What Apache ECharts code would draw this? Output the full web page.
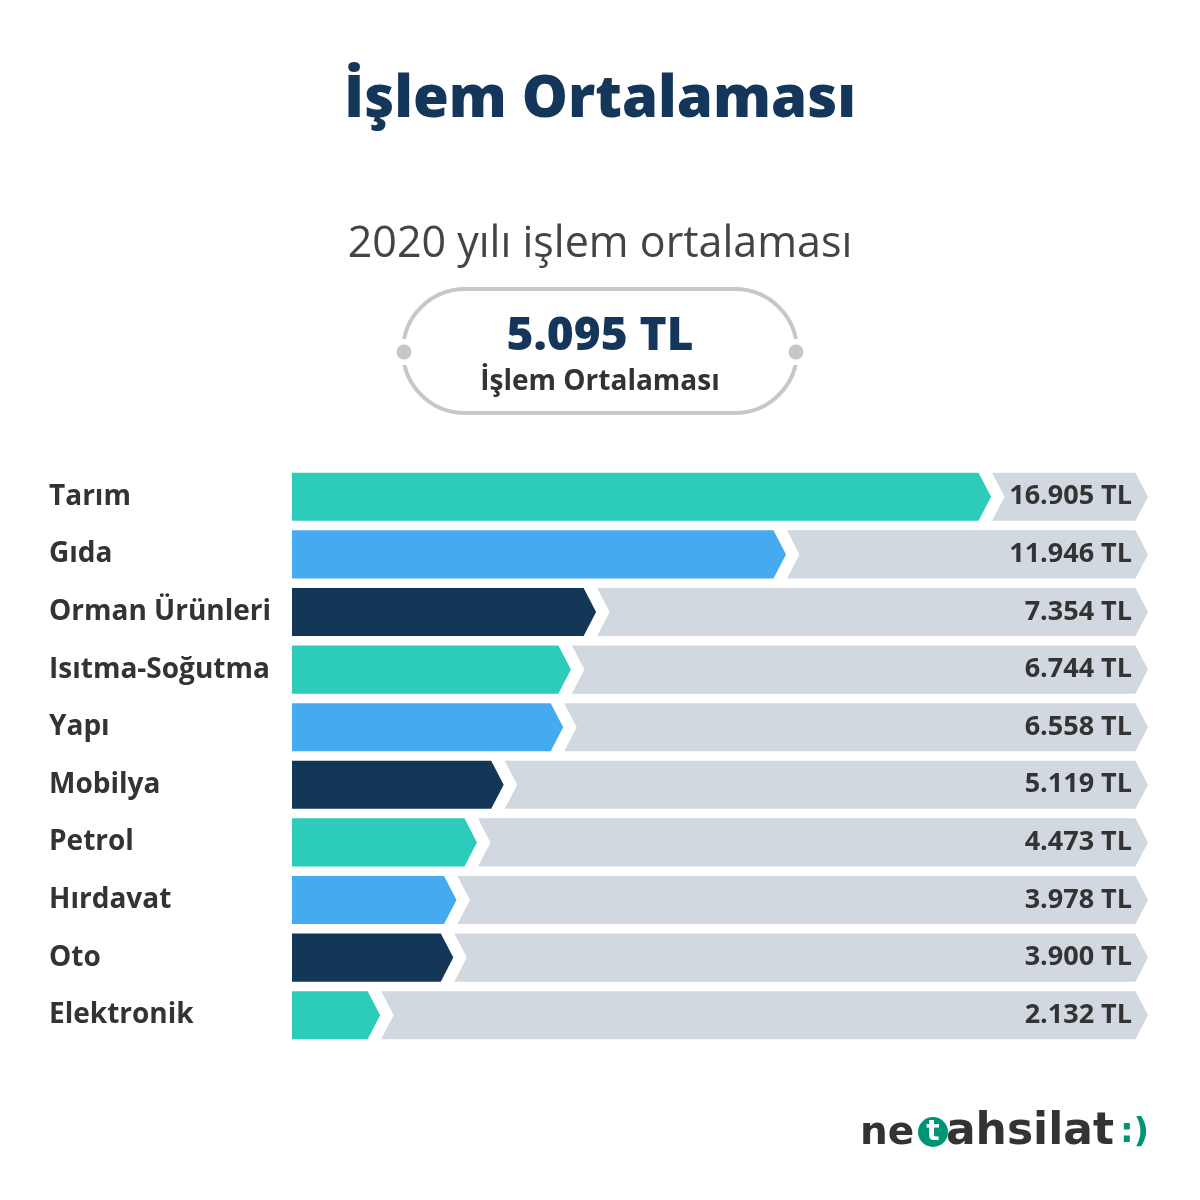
<!DOCTYPE html>
<html>
<head>
<meta charset="utf-8">
<script src="https://cdn.jsdelivr.net/npm/echarts@6/dist/echarts.min.js"></script>
<style>html,body{margin:0;padding:0;background:#fff}#c{width:1200px;height:1200px}</style>
</head>
<body>
<div id="c"></div>
<script>
const categories = ['Tarım','Gıda','Orman Ürünleri','Isıtma-Soğutma','Yapı','Mobilya','Petrol','Hırdavat','Oto','Elektronik'];
const values = [16905, 11946, 7354, 6744, 6558, 5119, 4473, 3978, 3900, 2132];
const barColors = ['#2DCBB9', '#46AAF0', '#143657'];
const averageValue = 5095;
const MAXV = 20700;

const FONT = '"Open Sans"';
const LOGO_FONT = '"DejaVu Sans"';
const fmt = v => v.toLocaleString('tr-TR') + ' TL';

const chart = echarts.init(document.getElementById('c'), null, {renderer: 'canvas'});

function renderItem(params, api) {
  const v = api.value(0), idx = api.value(1);
  const p0 = api.coord([0, idx]);
  const p1 = api.coord([v, idx]);
  const pe = api.coord([MAXV, idx]);
  const h = api.size([0, 1])[1] * 0.835;
  const top = p0[1] - h / 2, bot = p0[1] + h / 2, mid = p0[1];
  const tw = 12.5;
  const x0 = p0[0], x1 = p1[0], xe = pe[0];
  return {
    type: 'group',
    children: [
      {
        type: 'polygon',
        shape: {points: [[x1 + 1, top], [xe - tw, top], [xe, mid], [xe - tw, bot], [x1 + 1, bot], [x1 + 1 + tw, mid]]},
        style: {fill: '#D1D8E0'}
      },
      {
        type: 'polygon',
        shape: {points: [[x0, top], [x1 - tw, top], [x1, mid], [x1 - tw, bot], [x0, bot]]},
        style: {fill: barColors[idx % 3]}
      },
      {
        type: 'text',
        x: xe - 16, y: mid,
        style: {text: fmt(v), align: 'right', verticalAlign: 'middle', fill: '#333333',
                font: 'bold 27px ' + FONT}
      }
    ]
  };
}

const option = {
  backgroundColor: '#ffffff',
  animation: false,
  title: [
    {text: 'İşlem Ortalaması', left: 'center', top: 66,
     textStyle: {fontFamily: FONT, fontWeight: 800, fontSize: 58, color: '#14365A'}},
    {text: '2020 yılı işlem ortalaması', left: 'center', top: 218,
     textStyle: {fontFamily: FONT, fontWeight: 'normal', fontSize: 43, color: '#444444'}}
  ],
  grid: {left: 292, right: 52, top: 468, height: 576},
  xAxis: {type: 'value', min: 0, max: MAXV, show: false},
  yAxis: {
    type: 'category', data: categories, inverse: true,
    axisLine: {show: false}, axisTick: {show: false}, splitLine: {show: false},
    axisLabel: {align: 'left', margin: 243, color: '#333333', fontFamily: FONT,
                fontWeight: 'bold', fontSize: 28}
  },
  series: [{
    type: 'custom',
    renderItem: renderItem,
    encode: {x: 0, y: 1},
    data: values.map((v, i) => [v, i])
  }],
  graphic: [
    {type: 'rect', shape: {x: 403, y: 289, width: 394, height: 124, r: 62},
     style: {fill: 'none', stroke: '#C6C7C9', lineWidth: 4}},
    {type: 'rect', shape: {x: 396, y: 339, width: 14, height: 26}, style: {fill: '#fff'}},
    {type: 'rect', shape: {x: 790, y: 339, width: 14, height: 26}, style: {fill: '#fff'}},
    {type: 'circle', shape: {cx: 404, cy: 352, r: 7.5}, style: {fill: '#C6C7C9'}},
    {type: 'circle', shape: {cx: 796, cy: 352, r: 7.5}, style: {fill: '#C6C7C9'}},
    {type: 'text', x: 600, y: 337,
     style: {text: fmt(averageValue), align: 'center', verticalAlign: 'middle',
             font: '800 46px ' + FONT, fill: '#14365A'}},
    {type: 'text', x: 600, y: 382,
     style: {text: 'İşlem Ortalaması', align: 'center', verticalAlign: 'middle',
             font: 'bold 28px ' + FONT, fill: '#333333'}},
    // logo
    {type: 'text', x: 860, y: 1134,
     style: {text: 'ne', align: 'left', verticalAlign: 'middle', font: 'bold 39px ' + LOGO_FONT, fill: '#333333'}},
    {type: 'circle', shape: {cx: 933, cy: 1132, r: 15}, style: {fill: '#009477'}},
    {type: 'text', x: 933, y: 1133,
     style: {text: 't', align: 'center', verticalAlign: 'middle', font: 'bold 28px ' + LOGO_FONT, fill: '#ffffff'}},
    {type: 'text', x: 1114, y: 1133,
     style: {text: 'ahsilat', align: 'right', verticalAlign: 'middle', font: 'bold 44px ' + LOGO_FONT, fill: '#333333'}},
    {type: 'text', x: 1120, y: 1133,
     style: {text: ':)', align: 'left', verticalAlign: 'middle', font: 'bold 34px ' + LOGO_FONT, fill: '#009477'}}
  ]
};
chart.setOption(option);
</script>
</body>
</html>
